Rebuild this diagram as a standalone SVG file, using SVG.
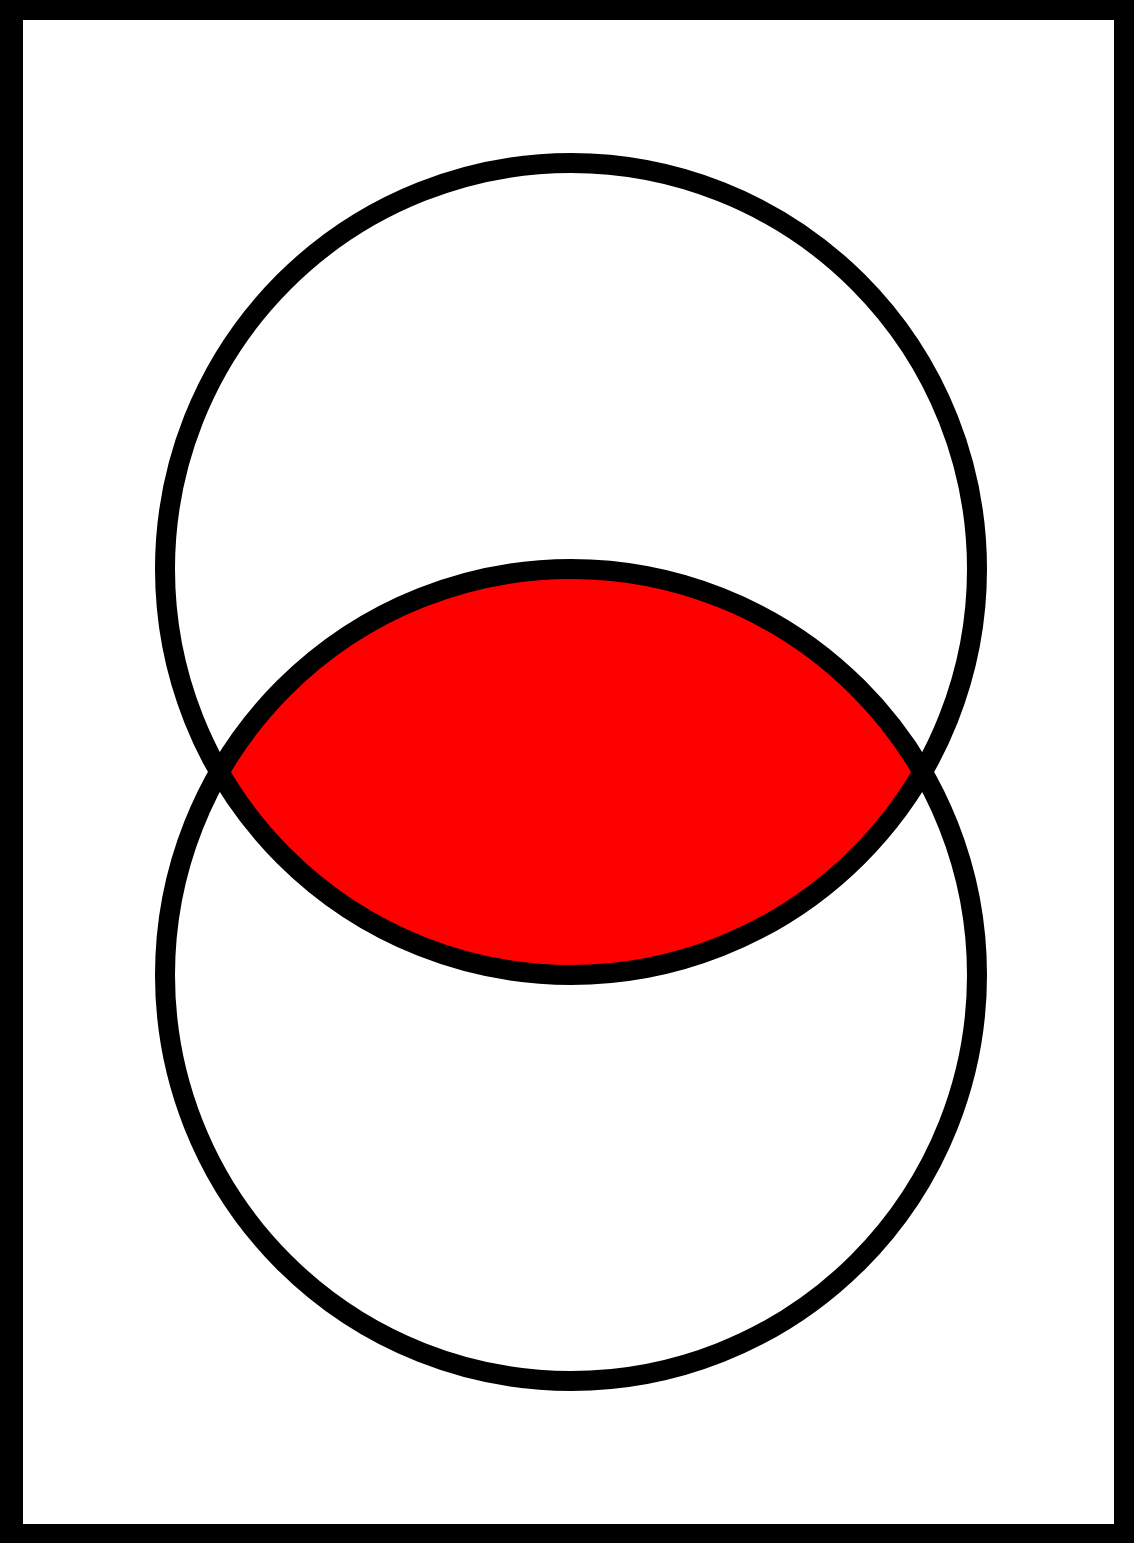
<svg xmlns="http://www.w3.org/2000/svg" width="1134" height="1543" viewBox="0 0 1134 1543">
  <defs>
    <style>
      .ring { fill: none; stroke: #000; stroke-width: 20; }
    </style>
    <clipPath id="clipTop">
      <circle cx="571" cy="569" r="406"/>
    </clipPath>
  </defs>
  <g id="frame">
    <path d="M0 0H1134V1543H0Z M23 20V1524H1114V20Z" fill="#000" fill-rule="evenodd"/>
  </g>
  <g id="intersection">
    <circle cx="571" cy="975" r="406" fill="#ff0000" clip-path="url(#clipTop)"/>
  </g>
  <g id="circleA">
    <circle class="ring" cx="571" cy="569" r="406"/>
  </g>
  <g id="circleB">
    <circle class="ring" cx="571" cy="975" r="406"/>
  </g>
  <g id="connectors"></g>
</svg>
